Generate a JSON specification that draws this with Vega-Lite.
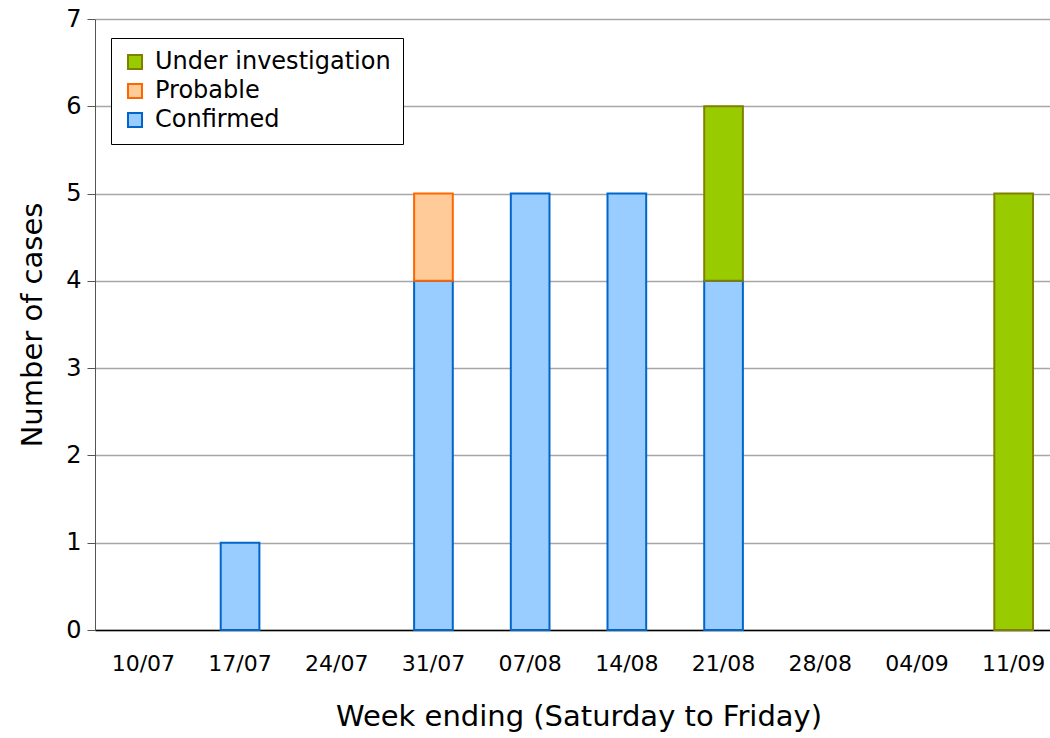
{
  "$schema": "https://vega.github.io/schema/vega-lite/v6.json",
  "autosize": "none",
  "width": 967,
  "height": 611,
  "padding": {"left": 95, "top": 19, "right": 0, "bottom": 108},
  "background": "white",
  "config": {
    "font": "DejaVu Sans",
    "view": {"stroke": null}
  },
  "data": {
    "values": [
      {"week": "10/07", "status": "Confirmed", "cases": 0},
      {"week": "17/07", "status": "Confirmed", "cases": 1},
      {"week": "24/07", "status": "Confirmed", "cases": 0},
      {"week": "31/07", "status": "Confirmed", "cases": 4},
      {"week": "31/07", "status": "Probable", "cases": 1},
      {"week": "07/08", "status": "Confirmed", "cases": 5},
      {"week": "14/08", "status": "Confirmed", "cases": 5},
      {"week": "21/08", "status": "Confirmed", "cases": 4},
      {"week": "21/08", "status": "Under investigation", "cases": 2},
      {"week": "28/08", "status": "Confirmed", "cases": 0},
      {"week": "04/09", "status": "Confirmed", "cases": 0},
      {"week": "11/09", "status": "Under investigation", "cases": 5}
    ]
  },
  "transform": [{"filter": "datum.cases > 0"}],
  "mark": {"type": "bar", "strokeWidth": 2},
  "encoding": {
    "x": {
      "field": "week",
      "type": "nominal",
      "sort": ["10/07","17/07","24/07","31/07","07/08","14/08","21/08","28/08","04/09","11/09"],
      "scale": {"domain": ["10/07","17/07","24/07","31/07","07/08","14/08","21/08","28/08","04/09","11/09"], "paddingInner": 0.6, "paddingOuter": 0.3},
      "axis": {
        "title": "Week ending (Saturday to Friday)",
        "labelAngle": 0,
        "labelFontSize": 22,
        "labelColor": "#000",
        "labelPadding": 23,
        "ticks": false,
        "domainColor": "#000",
        "domainWidth": 1.5,
        "titleFontSize": 29,
        "titleFontWeight": "normal",
        "titleColor": "#000",
        "titlePadding": 28
      }
    },
    "y": {
      "field": "cases",
      "type": "quantitative",
      "aggregate": "sum",
      "stack": "zero",
      "scale": {"domain": [0, 7], "nice": false},
      "axis": {
        "title": "Number of cases",
        "values": [0,1,2,3,4,5,6,7],
        "labelFontSize": 24,
        "labelColor": "#000",
        "labelPadding": 6,
        "tickSize": 8,
        "tickColor": "#555",
        "domainColor": "#555",
        "gridColor": "#a6a6a6",
        "gridWidth": 1.5,
        "titleFontSize": 29,
        "titleFontWeight": "normal",
        "titleColor": "#000",
        "titlePadding": 18
      }
    },
    "fill": {
      "field": "status",
      "type": "nominal",
      "scale": {
        "domain": ["Under investigation", "Probable", "Confirmed"],
        "range": ["#99cc00", "#ffcc99", "#99ccff"]
      },
      "legend": {
        "title": null,
        "orient": "none",
        "legendX": 16,
        "legendY": 19,
        "direction": "vertical",
        "symbolType": "square",
        "symbolSize": 196,
        "symbolStrokeWidth": 2,
        "symbolOpacity": 1,
        "labelFontSize": 24,
        "labelColor": "#000",
        "labelOffset": 8,
        "rowPadding": 5,
        "padding": 12,
        "offset": 0,
        "strokeColor": "#000",
        "fillColor": "white",
        "labelLimit": 400
      }
    },
    "stroke": {
      "field": "status",
      "type": "nominal",
      "scale": {
        "domain": ["Under investigation", "Probable", "Confirmed"],
        "range": ["#808000", "#ff6600", "#0066cc"]
      },
      "legend": null
    },
    "order": {"field": "status", "sort": "ascending"}
  }
}
